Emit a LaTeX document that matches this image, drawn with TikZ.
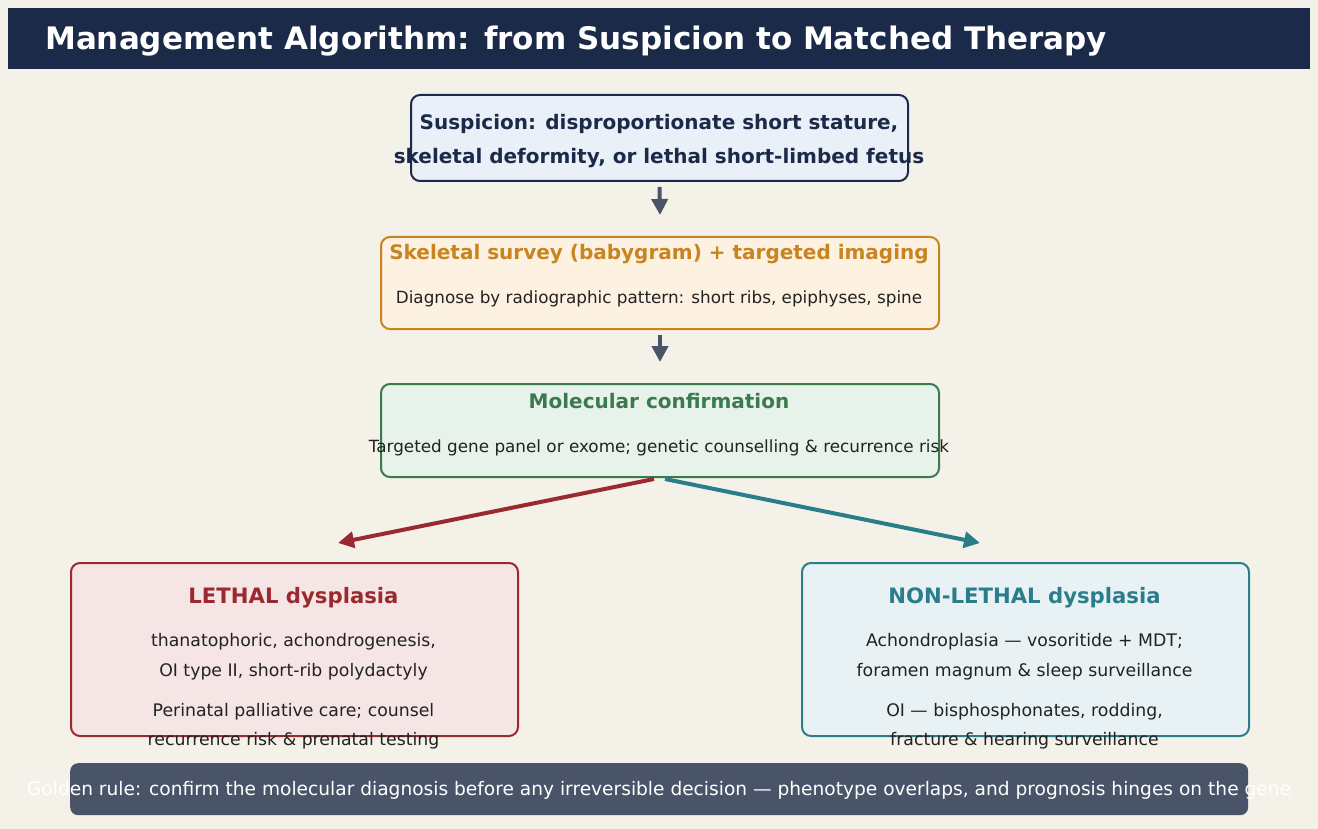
\documentclass[tikz,border=0pt]{standalone}
\usepackage{fontspec}
\setmainfont{DejaVu Sans}
\usetikzlibrary{arrows.meta}
\definecolor{bgc}{HTML}{F4F1E8}
\definecolor{navy}{HTML}{1C2A4A}
\definecolor{fillA}{HTML}{EAF0F7}
\definecolor{orng}{HTML}{C8841F}
\definecolor{fillB}{HTML}{FDF1E2}
\definecolor{grn}{HTML}{3A7A4E}
\definecolor{fillC}{HTML}{E7F2EA}
\definecolor{redc}{HTML}{9B2A30}
\definecolor{fillD}{HTML}{F6E5E5}
\definecolor{teal}{HTML}{2A7E8A}
\definecolor{fillE}{HTML}{E8F1F3}
\definecolor{grayc}{HTML}{4A5468}
\definecolor{txt}{HTML}{222222}
\tikzset{
  boxbase/.style={rounded corners=9pt, line width=2pt, inner sep=0pt, anchor=north west},
  lbl/.style={inner sep=0pt, anchor=base},
  flowarrow/.style={line width=4pt, -{Triangle[length=16pt,width=16pt]}},
  ttl/.style={lbl, font=\bfseries\fontsize{20}{22}\selectfont},
  body/.style={lbl, text=txt, font=\fontsize{16.8}{20}\selectfont},
  bigttl/.style={lbl, font=\bfseries\fontsize{21.2}{24}\selectfont},
  bodyL/.style={lbl, text=txt, font=\fontsize{17.3}{20}\selectfont},
}
\begin{document}
\begin{tikzpicture}[x=1pt,y=-1pt]
\path[fill=bgc, use as bounding box] (0,0) rectangle (1318,829);
% title bar
\node[fill=navy, inner sep=0pt, anchor=north west, minimum width=1302pt, minimum height=61pt] (bar) at (8,8) {};
\node[lbl, anchor=base west, text=white, font=\bfseries\fontsize{31}{34}\selectfont] (title) at (45,49.5) {Management Algorithm: from Suspicion to Matched Therapy};
% boxes
\node[boxbase, draw=navy, fill=fillA, minimum width=497pt, minimum height=86pt] (susp) at (410,94) {};
\node[boxbase, draw=orng, fill=fillB, minimum width=558pt, minimum height=92pt] (survey) at (380,236) {};
\node[boxbase, draw=grn, fill=fillC, minimum width=558pt, minimum height=93pt] (molec) at (380,383) {};
\node[boxbase, draw=redc, fill=fillD, minimum width=447pt, minimum height=173pt] (lethal) at (70,562) {};
\node[boxbase, draw=teal, fill=fillE, minimum width=447pt, minimum height=173pt] (nonlethal) at (801,562) {};
\node[fill=grayc, rounded corners=8pt, inner sep=0pt, anchor=north west, minimum width=1178pt, minimum height=52pt] (golden) at (70,763) {};
% texts
\node[ttl, text=navy] (s1) at (659,130) {Suspicion: disproportionate short stature,};
\node[ttl, text=navy] (s2) at (659,164) {skeletal deformity, or lethal short-limbed fetus};
\node[ttl, text=orng] (v1) at (659,260) {Skeletal survey (babygram) + targeted imaging};
\node[body] (v2) at (659,304) {Diagnose by radiographic pattern: short ribs, epiphyses, spine};
\node[ttl, text=grn] (m1) at (659,408) {Molecular confirmation};
\node[body] (m2) at (659,452) {Targeted gene panel or exome; genetic counselling \& recurrence risk};
\node[bigttl, text=redc] (l0) at (293.5,603) {LETHAL dysplasia};
\node[bodyL] (l1) at (293.5,646.5) {thanatophoric, achondrogenesis,};
\node[bodyL] (l2) at (293.5,676.5) {OI type II, short-rib polydactyly};
\node[bodyL] (l3) at (293.5,716.5) {Perinatal palliative care; counsel};
\node[bodyL] (l4) at (293.5,745.5) {recurrence risk \& prenatal testing};
\node[bigttl, text=teal] (n0) at (1024.5,603) {NON-LETHAL dysplasia};
\node[bodyL] (n1) at (1024.5,646.5) {Achondroplasia — vosoritide + MDT;};
\node[bodyL] (n2) at (1024.5,676.5) {foramen magnum \& sleep surveillance};
\node[bodyL] (n3) at (1024.5,716.5) {OI — bisphosphonates, rodding,};
\node[bodyL] (n4) at (1024.5,745.5) {fracture \& hearing surveillance};
\node[lbl, text=white, font=\fontsize{18.6}{22}\selectfont] (g1) at (659,795.5) {Golden rule: confirm the molecular diagnosis before any irreversible decision — phenotype overlaps, and prognosis hinges on the gene};
% arrows
\draw[flowarrow, grayc] ([yshift=-5pt]susp.south) -- ([yshift=21pt]survey.north);
\draw[flowarrow, grayc] ([yshift=-5pt]survey.south) -- ([yshift=21pt]molec.north);
\coordinate (lt) at (338,543);
\coordinate (nt) at (980,543);
\draw[flowarrow, redc] ([xshift=-6pt,yshift=-1pt]molec.south) -- (lt);
\draw[flowarrow, teal] ([xshift=5pt,yshift=-1pt]molec.south) -- (nt);
\end{tikzpicture}
\end{document}
